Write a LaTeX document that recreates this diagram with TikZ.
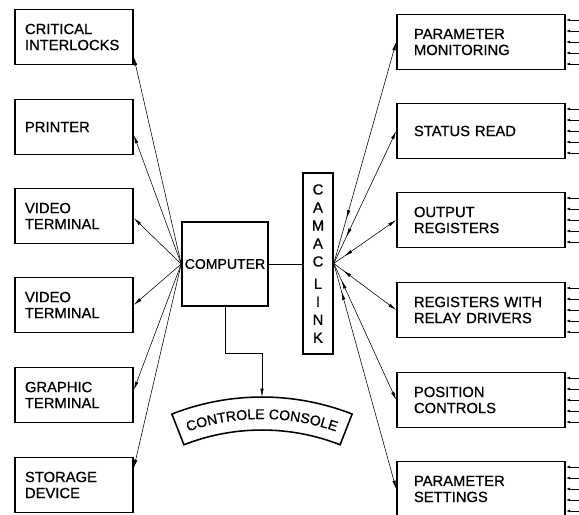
\documentclass[tikz,border=0pt]{standalone}
\usepackage{fontspec}
\setmainfont{Liberation Sans}[FakeBold=0.8]
\usetikzlibrary{%
  arrows.meta,%
  calc,%
  decorations.markings,%
  decorations.text%
}
\newcommand{\unitfont}{\fontsize{10.5}{11.4}\selectfont}
\tikzset{>={Latex[length=6pt,width=2.4pt]}}
\tikzset{
  lbox/.style={draw,line width=1.1pt,minimum width=2.95cm,
    minimum height=1.375cm,text width=2.45cm,inner xsep=0.25cm,
    align=left,font=\unitfont},
  rbox/.style={draw,line width=1.1pt,minimum width=4.2cm,
    minimum height=1.375cm,text width=3.35cm,inner xsep=0.425cm,
    align=left,font=\unitfont},
  link/.style={->,line width=0.4pt},
  twoway/.style={link,postaction={decorate},
    decoration={markings,mark=at position #1 with {\arrow{<}}}},
  stub/.style={<-,>={Latex[length=3pt,width=2pt]},line width=0.6pt}
}

\begin{document}
\begin{tikzpicture}[x=0.025cm,y=-0.025cm]
        \useasboundingbox (0,0) rectangle (579,514);
        % peripherals of the computer
        \node[lbox] (crit)  at (74,37)  {CRITICAL\\INTERLOCKS};
        \node[lbox] (prnt)  at (74,127) {PRINTER};
        \node[lbox] (vid1)  at (74,216) {VIDEO\\TERMINAL};
        \node[lbox] (vid2)  at (74,305) {VIDEO\\TERMINAL};
        \node[lbox] (graph) at (74,395) {GRAPHIC\\TERMINAL};
        \node[lbox] (store) at (74,485) {STORAGE\\DEVICE};
        % modules on the crate
        \node[rbox] (pmon)  at (481,42)  {PARAMETER\\MONITORING};
        \node[rbox] (sread) at (481,131) {STATUS READ};
        \node[rbox] (oreg)  at (481,220) {OUTPUT\\REGISTERS};
        \node[rbox] (rreg)  at (481,310) {REGISTERS WITH\\RELAY DRIVERS};
        \node[rbox] (pctl)  at (481,400) {POSITION\\CONTROLS};
        \node[rbox] (pset)  at (481,489) {PARAMETER\\SETTINGS};
        \node[draw,line width=1.1pt,minimum width=2.15cm,minimum height=2.1cm,
        inner sep=0pt,font=\fontsize{10}{12}\selectfont] (comp) at (225,264)
        {COMPUTER};
        \node[draw,line width=1.1pt,minimum width=0.75cm,minimum height=4.525cm,
        align=center,font=\fontsize{10.5}{12.8}\selectfont] (camac) at (318,263.5)
        {C\\A\\M\\A\\C\\[3pt]L\\I\\N\\K};
        % console banner
        \begin{scope}[shift={(262,644)}]
          \draw[line width=1.1pt] (-111.4:247) arc[start angle=-111.4,
          end angle=-68.6,radius=247] -- (-68.6:214) arc[start angle=-68.6,
          end angle=-111.4,radius=214] -- cycle;
          \path[decorate,decoration={text along path,text align=center,
          text={|\fontsize{10}{10}\selectfont|CONTROLE CONSOLE}}]
          (-111.4:225) arc[start angle=-111.4,end angle=-68.6,radius=225];
          \coordinate (console) at (-90:247);
        \end{scope}
        % connections
        \draw[line width=0.4pt] (comp.east) -- (camac.west |- comp.east);
        \draw[link] (comp.south) -- ++(0,46) -| (console);
        \foreach \u/\s in {crit/-0.5,prnt/-0.2,vid1/-0.05,vid2/0,graph/0.125,
        store/0.425}
          \draw[link] (comp.west) -- ([yshift=\s cm]\u.east);
        \foreach \u/\p in {pmon/0.24,sread/0.26,oreg/0.28,rreg/0.26,pctl/0.18,
        pset/0.16}
          \draw[twoway=\p] (camac.east) -- (\u.west);
        \foreach \u in {pmon,sread,oreg,rreg,pctl,pset}
          \foreach \k in {-2,...,2}
            \draw[stub] ([yshift=\k*0.275cm]\u.east) -- ++(13,0);
      \end{tikzpicture}
\end{document}
